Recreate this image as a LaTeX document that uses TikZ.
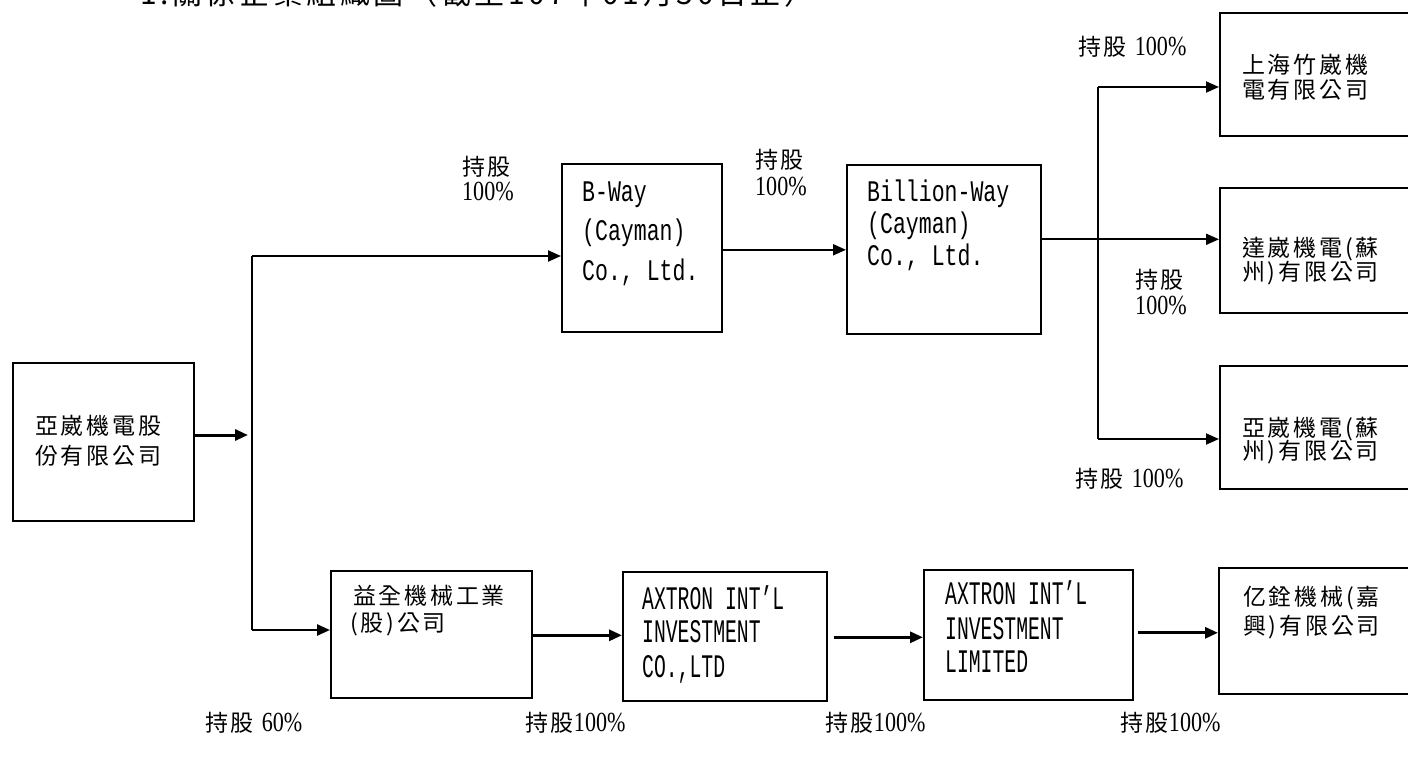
\documentclass[tikz,border=0pt]{standalone}
\usepackage{fontspec}
\setmainfont{Liberation Serif}
\newfontfamily\cjk[LetterSpace=12]{Noto Sans CJK TC}
\newfontfamily\lat[Scale=1.3,FakeStretch=0.72]{Liberation Mono}
\newfontfamily\latc[Scale=1.43,FakeStretch=0.6]{Liberation Mono}
\newfontfamily\numf[Scale=1.2,FakeStretch=0.8]{Liberation Serif}
\newcommand{\nm}[1]{{\numf #1}}
\usetikzlibrary{arrows.meta}
\begin{document}
\begin{tikzpicture}[x=1pt,y=-1pt,
  box/.style={draw,line width=1.6pt,rectangle,inner sep=0pt,anchor=north west},
  ct/.style={anchor=base west,inner sep=0pt,font=\fontsize{23}{26}\selectfont\cjk},
  lt/.style={anchor=base west,inner sep=0pt,font=\fontsize{23}{26}\selectfont\lat},
  ltc/.style={anchor=base west,inner sep=0pt,font=\fontsize{23}{26}\selectfont\latc},
  tip/.style={-{Triangle[length=13pt,width=11pt]}},
  thin/.style={line width=1.8pt},
  thick/.style={line width=3pt}]
\useasboundingbox (0,0) rectangle (1408,759);
\fill[white] (0,0) rectangle (1408,759);
% title (clipped at top)
\node[anchor=base west,inner sep=0pt,font=\fontsize{30}{32}\selectfont\cjk] (title) at (140,5) {1.關係企業組織圖（截至107年01月30日止）};
% boxes
\node[box,minimum width=181pt,minimum height=158pt] (main) at (12,362) {};
\node[box,minimum width=160pt,minimum height=168pt] (bway) at (561,163) {};
\node[box,minimum width=194pt,minimum height=169pt] (bw) at (846,164) {};
\node[box,minimum width=220pt,minimum height=123pt] (sh) at (1219,12) {};
\node[box,minimum width=220pt,minimum height=125pt] (sz2) at (1219,187) {};
\node[box,minimum width=220pt,minimum height=123pt] (sz3) at (1219,365) {};
\node[box,minimum width=201pt,minimum height=127pt] (yq) at (330,570) {};
\node[box,minimum width=204pt,minimum height=129pt] (ax1) at (622,571) {};
\node[box,minimum width=209pt,minimum height=130pt] (ax2) at (923,569) {};
\node[box,minimum width=220pt,minimum height=126pt] (jx) at (1218,567) {};
% box texts
\node[ct] (main1) at (35,434) {亞崴機電股};
\node[ct] (main2) at (35,464) {份有限公司};
\node[lt] (bway1) at (582,202) {B-Way};
\node[lt] (bway2) at (582,241) {(Cayman)};
\node[lt] (bway3) at (582,281) {Co., Ltd.};
\node[lt] (bw1) at (867,202) {Billion-Way};
\node[lt] (bw2) at (867,234) {(Cayman)};
\node[lt] (bw3) at (867,266) {Co., Ltd.};
\node[ct] (sh1) at (1242,74) {上海竹崴機};
\node[ct] (sh2) at (1242,99) {電有限公司};
\node[ct] (sz21) at (1242,257) {達崴機電(蘇};
\node[ct] (sz22) at (1242,281) {州)有限公司};
\node[ct] (sz31) at (1242,436) {亞崴機電(蘇};
\node[ct] (sz32) at (1242,459) {州)有限公司};
\node[ct] (yq1) at (353,604) {益全機械工業};
\node[ct] (yq2) at (350,631) {(股)公司};
\node[ltc] (ax11) at (642,609) {AXTRON INT’L};
\node[ltc] (ax12) at (642,642) {INVESTMENT};
\node[ltc] (ax13) at (642,677) {CO.,LTD};
\node[ltc] (ax21) at (945,604) {AXTRON INT’L};
\node[ltc] (ax22) at (945,639) {INVESTMENT};
\node[ltc] (ax23) at (945,672) {LIMITED};
\node[ct] (jx1) at (1243,605) {亿銓機械(嘉};
\node[ct] (jx2) at (1243,634) {興)有限公司};
% share labels
\node[ct] (la1) at (462,176) {持股};
\node[ct] (la2) at (462,201) {\nm{100\%}};
\node[ct] (lb1) at (755,169) {持股};
\node[ct] (lb2) at (755,196) {\nm{100\%}};
\node[ct] (lc) at (1078,56) {持股 \nm{100\%}};
\node[ct] (ld1) at (1135,289) {持股};
\node[ct] (ld2) at (1135,314) {\nm{100\%}};
\node[ct] (le) at (1075,487) {持股 \nm{100\%}};
\node[ct] (lf) at (205,731) {持股 \nm{60\%}};
\node[ct] (lg) at (525,731) {持股\nm{100\%}};
\node[ct] (lh) at (825,731) {持股\nm{100\%}};
\node[ct] (li) at (1120,731) {持股\nm{100\%}};
% connectors
\coordinate (tmid) at (248,435);
\coordinate (ttop) at (252,256);
\coordinate (tbot) at (252,630);
\coordinate (rtop) at (1098,87);
\coordinate (rbot) at (1098,439);
\draw[thick,tip] (main.east |- tmid) -- (tmid);
\draw[thin] (ttop) -- (tbot);
\draw[thin,line width=2pt,tip] (ttop) -- (ttop -| bway.west);
\draw[thin,line width=2.4pt,tip] (tbot) -- (tbot -| yq.west);
\draw[thin,line width=2pt,tip] ([yshift=-2pt]bway.east) -- ([yshift=-2pt]bway.east -| bw.west);
\draw[thin,tip] ([yshift=10pt]bw.east) -- ([yshift=10pt]bw.east -| sz2.west);
\draw[thin] (rtop) -- (rbot);
\draw[thin,tip] (rtop) -- (rtop -| sh.west);
\draw[thin,tip] (rbot) -- (rbot -| sz3.west);
\draw[thick,tip] ([yshift=-1pt]yq.east) -- ([yshift=-1pt]yq.east -| ax1.west);
\draw[thick,tip] ([xshift=6pt,yshift=-1pt]ax1.east) -- ([yshift=-1pt]ax1.east -| ax2.west);
\draw[thick,tip] ([xshift=4pt,yshift=2pt]ax2.east) -- ([yshift=2pt]ax2.east -| jx.west);
\end{tikzpicture}
\end{document}
